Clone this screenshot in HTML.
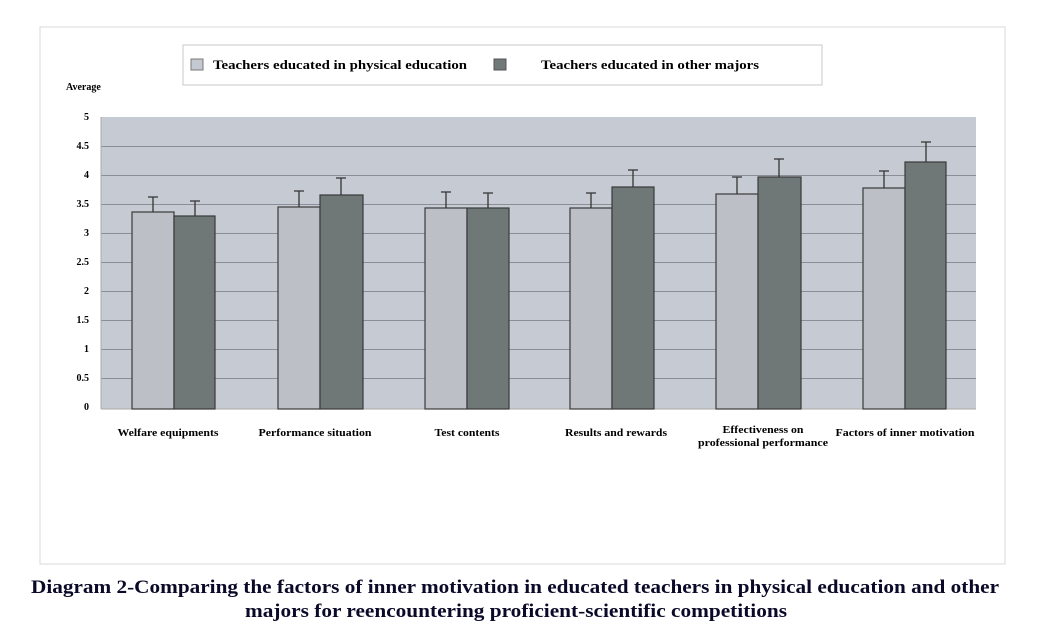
<!DOCTYPE html>
<html><head><meta charset="utf-8"><style>
body{margin:0;background:#fff;}
svg{display:block;font-family:"Liberation Serif",serif;font-weight:bold;}
</style></head><body>
<svg width="1052" height="631" viewBox="0 0 1052 631">
<rect x="40" y="27" width="965" height="537" fill="#fff" stroke="#d8d8d8" stroke-width="1"/>
<rect x="183" y="45" width="639" height="40" fill="#fff" stroke="#c8c8c8"/>
<rect x="191" y="59" width="12" height="11" fill="#c4c8d0" stroke="#777"/>
<text x="213" y="69" font-size="13" textLength="254" lengthAdjust="spacingAndGlyphs">Teachers educated in physical education</text>
<rect x="494" y="59" width="12" height="11" fill="#707878" stroke="#555"/>
<text x="541" y="69" font-size="13" textLength="218" lengthAdjust="spacingAndGlyphs">Teachers educated in other majors</text>
<text x="66" y="90" font-size="10">Average</text>
<rect x="101" y="117" width="875" height="292" fill="#c6cad2"/>
<g stroke="#8a8e96" stroke-width="1">
<line x1="101" y1="146.5" x2="976" y2="146.5"/><line x1="101" y1="175.5" x2="976" y2="175.5"/>
<line x1="101" y1="204.5" x2="976" y2="204.5"/><line x1="101" y1="233.5" x2="976" y2="233.5"/>
<line x1="101" y1="262.5" x2="976" y2="262.5"/><line x1="101" y1="291.5" x2="976" y2="291.5"/>
<line x1="101" y1="320.5" x2="976" y2="320.5"/><line x1="101" y1="349.5" x2="976" y2="349.5"/>
<line x1="101" y1="378.5" x2="976" y2="378.5"/>
</g>
<line x1="101" y1="117" x2="101" y2="409" stroke="#aaa"/>
<line x1="101" y1="409" x2="976" y2="409" stroke="#aaa"/>
<g font-size="10" text-anchor="end">
<text x="89" y="120">5</text><text x="89" y="149">4.5</text><text x="89" y="178">4</text>
<text x="89" y="207">3.5</text><text x="89" y="236">3</text><text x="89" y="265">2.5</text>
<text x="89" y="294">2</text><text x="89" y="323">1.5</text><text x="89" y="352">1</text>
<text x="89" y="381">0.5</text><text x="89" y="410">0</text>
</g>
<g stroke="#3a3a3a" stroke-width="1.2">
<rect x="132" y="212" width="42" height="197" fill="#bcc0c6"/><rect x="174" y="216" width="41" height="193" fill="#6f7777"/>
<rect x="278" y="207" width="42" height="202" fill="#bcc0c6"/><rect x="320" y="195" width="43" height="214" fill="#6f7777"/>
<rect x="425" y="208" width="42" height="201" fill="#bcc0c6"/><rect x="467" y="208" width="42" height="201" fill="#6f7777"/>
<rect x="570" y="208" width="42" height="201" fill="#bcc0c6"/><rect x="612" y="187" width="42" height="222" fill="#6f7777"/>
<rect x="716" y="194" width="42" height="215" fill="#bcc0c6"/><rect x="758" y="177" width="43" height="232" fill="#6f7777"/>
<rect x="863" y="188" width="42" height="221" fill="#bcc0c6"/><rect x="905" y="162" width="41" height="247" fill="#6f7777"/>
</g>
<g stroke="#333" stroke-width="1.3" fill="none">
<path d="M153 212V197M148 197H158"/><path d="M195 216V201M190 201H200"/>
<path d="M299 207V191M294 191H304"/><path d="M341 195V178M336 178H346"/>
<path d="M446 208V192M441 192H451"/><path d="M488 208V193M483 193H493"/>
<path d="M591 208V193M586 193H596"/><path d="M633 187V170M628 170H638"/>
<path d="M737 194V177M732 177H742"/><path d="M779 177V159M774 159H784"/>
<path d="M884 188V171M879 171H889"/><path d="M926 162V142M921 142H931"/>
</g>
<g font-size="10" text-anchor="middle" lengthAdjust="spacingAndGlyphs">
<text x="168" y="436" textLength="101" lengthAdjust="spacingAndGlyphs">Welfare equipments</text>
<text x="315" y="436" textLength="113" lengthAdjust="spacingAndGlyphs">Performance situation</text>
<text x="467" y="436" textLength="65" lengthAdjust="spacingAndGlyphs">Test contents</text>
<text x="616" y="436" textLength="102" lengthAdjust="spacingAndGlyphs">Results and rewards</text>
<text x="763" y="433" textLength="81" lengthAdjust="spacingAndGlyphs">Effectiveness on</text>
<text x="763" y="446" textLength="130" lengthAdjust="spacingAndGlyphs">professional performance</text>
<text x="905" y="436" textLength="139" lengthAdjust="spacingAndGlyphs">Factors of inner motivation</text>
</g>
<g font-size="19" text-anchor="middle" fill="#0a0a28">
<text x="515" y="593" textLength="968" lengthAdjust="spacingAndGlyphs">Diagram 2-Comparing the factors of inner motivation in educated teachers in physical education and other</text>
<text x="516" y="617" textLength="542" lengthAdjust="spacingAndGlyphs">majors for reencountering proficient-scientific competitions</text>
</g>
</svg>
</body></html>
